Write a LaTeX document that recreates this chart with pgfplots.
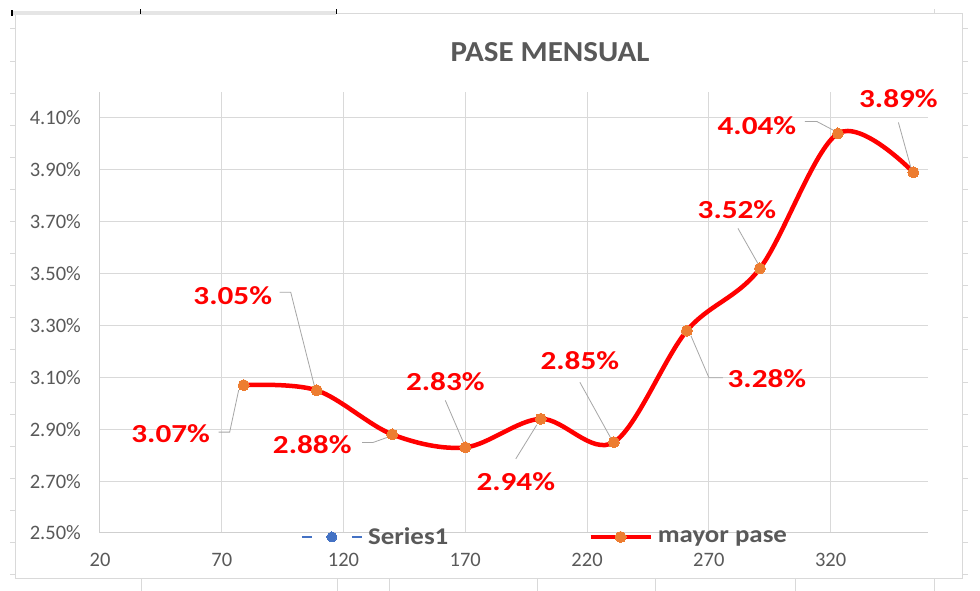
\documentclass[border=0pt]{standalone}
\usepackage{pgfplots}
\pgfplotsset{compat=1.18}
\usepackage{fontspec}
\setmainfont{Carlito}
\newfontfamily\lblfont[FakeStretch=1.2]{Carlito}
\newfontfamily\ttlfont[FakeStretch=1.07]{Carlito}
\newfontfamily\legfont[FakeStretch=1.12]{Carlito}
\definecolor{txtgray}{HTML}{595959}
\definecolor{gridgray}{HTML}{D9D9D9}
\definecolor{axgray}{HTML}{CFCFCF}
\definecolor{leadgray}{HTML}{A6A6A6}
\definecolor{mkorange}{HTML}{ED7D31}
\definecolor{serblue}{HTML}{4472C4}
\tikzset{
  lbl/.style={text=red, font=\lblfont\bfseries\fontsize{26}{30}\selectfont, inner sep=0pt, anchor=center},
  lead/.style={leadgray, line width=0.8pt}
}
\begin{document}
\begin{tikzpicture}
\useasboundingbox[fill=white] (0,0) rectangle (980pt,591pt);
% outer frame and sheet artifacts
\draw[gridgray, line width=1pt] (15pt,12pt) rectangle (962pt,577pt);
\fill[black!10] (12pt,576pt) rectangle (336pt,580pt);
\draw[black, line width=1.5pt] (12pt,575pt) -- (12pt,581pt);
\draw[black, line width=1pt] (140pt,577pt) -- (140pt,582pt);
\draw[black, line width=1pt] (336pt,577pt) -- (336pt,582pt);
\draw[gridgray, line width=1pt] (934pt,577pt) -- (934pt,582pt);
\foreach \k in {0,...,17}{
  \pgfmathsetmacro\yy{562-32.1*\k}
  \draw[gridgray, line width=1pt] (10pt,\yy pt) -- (15pt,\yy pt);
  \draw[gridgray, line width=1pt] (962pt,\yy pt) -- (968pt,\yy pt);
}
\foreach \xx in {141,337,389,537,655,795,934}{
  \draw[gridgray, line width=1pt] (\xx pt,0pt) -- (\xx pt,12pt);
}
\node[text=txtgray, font=\ttlfont\bfseries\fontsize{29}{34}\selectfont, anchor=base] at (550pt,529pt) {PASE MENSUAL};
\begin{axis}[
  at={(100pt,58pt)}, anchor=south west,
  scale only axis, width=828pt, height=441pt,
  xmin=20, xmax=360, ymin=2.5, ymax=4.2,
  xtick={20,70,120,170,220,270,320},
  ytick={2.5,2.7,2.9,3.1,3.3,3.5,3.7,3.9,4.1},
  grid=major, major grid style={gridgray, line width=1pt},
  axis x line*=bottom, axis y line*=left,
  axis line style={axgray, line width=1pt, -},
  major tick length=0pt,
  clip=false,
  tick label style={font=\fontsize{20.5}{24}\selectfont, text=txtgray},
  /pgf/number format/assume math mode=true,
  yticklabel={\pgfmathprintnumber[fixed,fixed zerofill,precision=2]{\tick}\%},
  yticklabel style={anchor=east, inner sep=0pt, xshift=-19pt},
  xticklabel style={anchor=center, inner sep=0pt, yshift=-27pt},
  legend columns=2,
  legend style={at={(0.536,-0.009)}, anchor=center, draw=none, fill=none, inner sep=0pt,
    font=\legfont\bfseries\fontsize{24}{28}\selectfont, text=txtgray,
    nodes={inner sep=0pt},
    /tikz/every odd column/.append style={column sep=5pt},
    /tikz/every even column/.append style={column sep=140pt}},
  legend image code/.code={\draw[mark repeat=2,mark phase=2,#1] plot coordinates {(0pt,0pt) (30pt,0pt) (60pt,0pt)};},
]
\addlegendimage{serblue, line width=2.5pt, dash pattern=on 10pt off 40pt, mark=*, mark size=5pt, mark options={solid, fill=serblue, draw=serblue, line width=0pt}}
\addlegendentry{Series1}
\addplot[red, line width=4.5pt, smooth, tension=0.55, mark=*, mark size=5.5pt, mark options={fill=mkorange, draw=mkorange, line width=0pt}] coordinates {
(79,3.07) (109,3.05) (140,2.88) (170,2.83) (201,2.94) (231,2.85) (261,3.28) (291,3.52) (323,4.04) (354,3.89)
};
\addlegendentry{mayor pase}
% leader lines
\draw[lead] ([xshift=-25pt,yshift=-47pt]axis cs:79,3.07) -- ([xshift=-14pt,yshift=-47pt]axis cs:79,3.07) -- ([xshift=-5pt,yshift=-5pt]axis cs:79,3.07);
\draw[lead] ([xshift=-37pt,yshift=98pt]axis cs:109,3.05) -- ([xshift=-26pt,yshift=98pt]axis cs:109,3.05) -- ([xshift=-2pt,yshift=3pt]axis cs:109,3.05);
\draw[lead] ([xshift=-30pt,yshift=-8pt]axis cs:140,2.88) -- ([xshift=-19pt,yshift=-8pt]axis cs:140,2.88) -- ([xshift=-5pt,yshift=-3pt]axis cs:140,2.88);
\draw[lead] ([xshift=-20pt,yshift=47pt]axis cs:170,2.83) -- ([xshift=-1pt,yshift=3pt]axis cs:170,2.83);
\draw[lead] ([xshift=-25pt,yshift=-40pt]axis cs:201,2.94) -- ([xshift=-4pt,yshift=-6pt]axis cs:201,2.94);
\draw[lead] ([xshift=-34pt,yshift=60pt]axis cs:231,2.85) -- ([xshift=-3pt,yshift=4pt]axis cs:231,2.85);
\draw[lead] ([xshift=36pt,yshift=-47pt]axis cs:261,3.28) -- ([xshift=22pt,yshift=-47pt]axis cs:261,3.28) -- ([xshift=4pt,yshift=-5pt]axis cs:261,3.28);
\draw[lead] ([xshift=-22pt,yshift=40pt]axis cs:291,3.52) -- ([xshift=-1pt,yshift=3pt]axis cs:291,3.52);
\draw[lead] ([xshift=-33pt,yshift=12pt]axis cs:323,4.04) -- ([xshift=-21pt,yshift=12pt]axis cs:323,4.04) -- ([xshift=-4pt,yshift=3pt]axis cs:323,4.04);
\draw[lead] ([xshift=-15pt,yshift=50pt]axis cs:354,3.89) -- ([xshift=-2pt,yshift=3pt]axis cs:354,3.89);
% data labels
\node[lbl] at ([xshift=-73pt,yshift=-49pt]axis cs:79,3.07) {3.07\%};
\node[lbl] at ([xshift=-84pt,yshift=95pt]axis cs:109,3.05) {3.05\%};
\node[lbl] at ([xshift=-80pt,yshift=-10pt]axis cs:140,2.88) {2.88\%};
\node[lbl] at ([xshift=-20pt,yshift=66pt]axis cs:170,2.83) {2.83\%};
\node[lbl] at ([xshift=-25pt,yshift=-63pt]axis cs:201,2.94) {2.94\%};
\node[lbl] at ([xshift=-34pt,yshift=82pt]axis cs:231,2.85) {2.85\%};
\node[lbl] at ([xshift=80pt,yshift=-48pt]axis cs:261,3.28) {3.28\%};
\node[lbl] at ([xshift=-23pt,yshift=59pt]axis cs:291,3.52) {3.52\%};
\node[lbl] at ([xshift=-81pt,yshift=8pt]axis cs:323,4.04) {4.04\%};
\node[lbl] at ([xshift=-15pt,yshift=74pt]axis cs:354,3.89) {3.89\%};
\end{axis}
\end{tikzpicture}
\end{document}
